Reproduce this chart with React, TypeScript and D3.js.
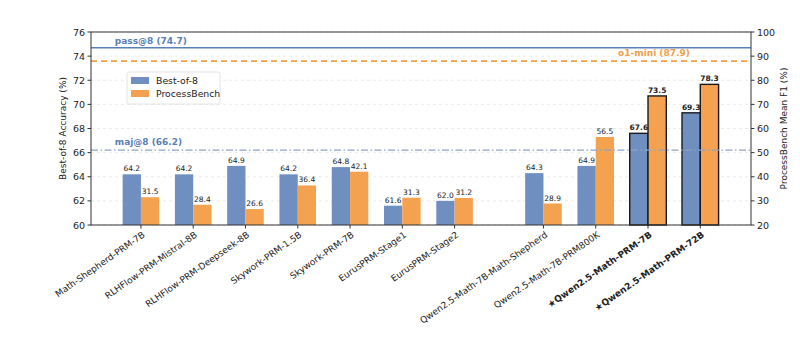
import React from "react";
import * as d3 from "d3";

const categories = [
  "Math-Shepherd-PRM-7B",
  "RLHFlow-PRM-Mistral-8B",
  "RLHFlow-PRM-Deepseek-8B",
  "Skywork-PRM-1.5B",
  "Skywork-PRM-7B",
  "EurusPRM-Stage1",
  "EurusPRM-Stage2",
  "Qwen2.5-Math-7B-Math-Shepherd",
  "Qwen2.5-Math-7B-PRM800K",
  "★Qwen2.5-Math-PRM-7B",
  "★Qwen2.5-Math-PRM-72B",
];
const bestOf8 = [64.2, 64.2, 64.9, 64.2, 64.8, 61.6, 62.0, 64.3, 64.9, 67.6, 69.3];
const processBench = [31.5, 28.4, 26.6, 36.4, 42.1, 31.3, 31.2, 28.9, 56.5, 73.5, 78.3];
const highlighted = [false, false, false, false, false, false, false, false, false, true, true];
const leftTicks = [60, 62, 64, 66, 68, 70, 72, 74, 76];
const rightTicks = [20, 30, 40, 50, 60, 70, 80, 90, 100];
const pass8 = 74.7;
const maj8 = 66.2;
const o1mini = 87.9;

const W = 800;
const H = 356;
const margin = { left: 91, right: 49, top: 32, bottom: 131 };
const BLUE = "#6f8fc0";
const ORANGE = "#f4a24f";
const FONT = "DejaVu Sans, sans-serif";

export default function App() {
  const x0 = margin.left;
  const x1 = W - margin.right;
  const y0 = H - margin.bottom;
  const y1 = margin.top;
  const pos = categories.map((_, i) => (i < 7 ? i : i + 0.7));
  const x = d3.scaleLinear().domain([-0.955, 11.67]).range([x0, x1]);
  const yL = d3.scaleLinear().domain([60, 76]).range([y0, y1]);
  const yR = d3.scaleLinear().domain([20, 100]).range([y0, y1]);
  const bw = x(0.35) - x(0);

  return (
    <div style={{ position: "absolute", left: 0, top: 0, width: W, height: H, background: "#fff" }}>
      <svg width={W} height={H} style={{ display: "block", fontFamily: FONT }}>
        <rect width={W} height={H} fill="#fff" />
        {/* grid */}
        {leftTicks.map((t) => (
          <line key={"g" + t} x1={x0} x2={x1} y1={yL(t)} y2={yL(t)} stroke="#e2e2e2" strokeWidth={0.7} strokeDasharray="3,3" />
        ))}
        {/* bars */}
        {categories.map((c, i) => {
          const cx = x(pos[i]);
          const hl = highlighted[i];
          const by = yL(bestOf8[i]);
          const py = yR(processBench[i]);
          return (
            <g key={c}>
              <rect x={cx - bw} y={by} width={bw} height={y0 - by} fill={BLUE} stroke={hl ? "#1a1a1a" : "none"} strokeWidth={hl ? 1.4 : 0} />
              <rect x={cx} y={py} width={bw} height={y0 - py} fill={ORANGE} stroke={hl ? "#1a1a1a" : "none"} strokeWidth={hl ? 1.4 : 0} />
              <text x={cx - bw / 2} y={by - 3} textAnchor="middle" fontSize={7.5} fontWeight={hl ? "bold" : "normal"} fill="#222">
                {bestOf8[i].toFixed(1)}
              </text>
              <text x={cx + bw / 2} y={py - 3} textAnchor="middle" fontSize={7.5} fontWeight={hl ? "bold" : "normal"} fill="#222">
                {processBench[i].toFixed(1)}
              </text>
            </g>
          );
        })}
        {/* reference lines */}
        <line x1={x0} x2={x1} y1={yL(pass8)} y2={yL(pass8)} stroke="#5a80bb" strokeWidth={1.5} />
        <text x={x(-0.5)} y={yL(pass8) - 4} fontSize={9} fontWeight="bold" fill="#5a7fb5">pass@8 ({pass8})</text>
        <line x1={x0} x2={x1} y1={yR(o1mini)} y2={yR(o1mini)} stroke="#f0a048" strokeWidth={1.8} strokeDasharray="6,4" />
        <text x={x(10.5)} y={yR(o1mini) - 5} textAnchor="end" fontSize={9} fontWeight="bold" fill="#f0a048">o1-mini ({o1mini})</text>
        <line x1={x0} x2={x1} y1={yL(maj8)} y2={yL(maj8)} stroke="#8ea4c6" strokeWidth={1.2} strokeDasharray="7,2.5,1.5,2.5" />
        <text x={x(-0.5)} y={yL(maj8) - 5} fontSize={9} fontWeight="bold" fill="#5a7fb5">maj@8 ({maj8})</text>
        {/* legend */}
        <g>
          <rect x={127} y={72} width={93} height={32} fill="#fff" fillOpacity={0.85} stroke="#dddddd" strokeWidth={0.8} rx={2} />
          <rect x={131} y={77} width={18} height={7} fill={BLUE} />
          <text x={156} y={84} fontSize={9.3} fill="#222">Best-of-8</text>
          <rect x={131} y={90} width={18} height={7} fill={ORANGE} />
          <text x={156} y={97} fontSize={9.3} fill="#222">ProcessBench</text>
        </g>
        {/* spines */}
        <rect x={x0} y={y1} width={x1 - x0} height={y0 - y1} fill="none" stroke="#333" strokeWidth={1} />
        {/* left axis */}
        {leftTicks.map((t) => (
          <g key={"l" + t}>
            <line x1={x0 - 3.5} x2={x0} y1={yL(t)} y2={yL(t)} stroke="#333" />
            <text x={x0 - 6} y={yL(t) + 3.5} textAnchor="end" fontSize={9.5} fill="#222">{t}</text>
          </g>
        ))}
        <text transform={`translate(${66},${(y0 + y1) / 2}) rotate(-90)`} textAnchor="middle" fontSize={9} fill="#222">Best-of-8 Accuracy (%)</text>
        {/* right axis */}
        {rightTicks.map((t) => (
          <g key={"r" + t}>
            <line x1={x1} x2={x1 + 3.5} y1={yR(t)} y2={yR(t)} stroke="#333" />
            <text x={x1 + 6} y={yR(t) + 3.5} textAnchor="start" fontSize={9.5} fill="#222">{t}</text>
          </g>
        ))}
        <text transform={`translate(${787},${(y0 + y1) / 2}) rotate(-90)`} textAnchor="middle" fontSize={9} fill="#222">ProcessBench Mean F1 (%)</text>
        {/* x axis */}
        {categories.map((c, i) => {
          const cx = x(pos[i]);
          return (
            <g key={"x" + c}>
              <line x1={cx} x2={cx} y1={y0} y2={y0 + 3.5} stroke="#333" />
              <text transform={`translate(${cx + 1},${y0 + 6}) rotate(-35)`} textAnchor="end" dy="0.7em" fontSize={9} fontWeight={highlighted[i] ? "bold" : "normal"} fill="#222">
                {c}
              </text>
            </g>
          );
        })}
      </svg>
    </div>
  );
}
